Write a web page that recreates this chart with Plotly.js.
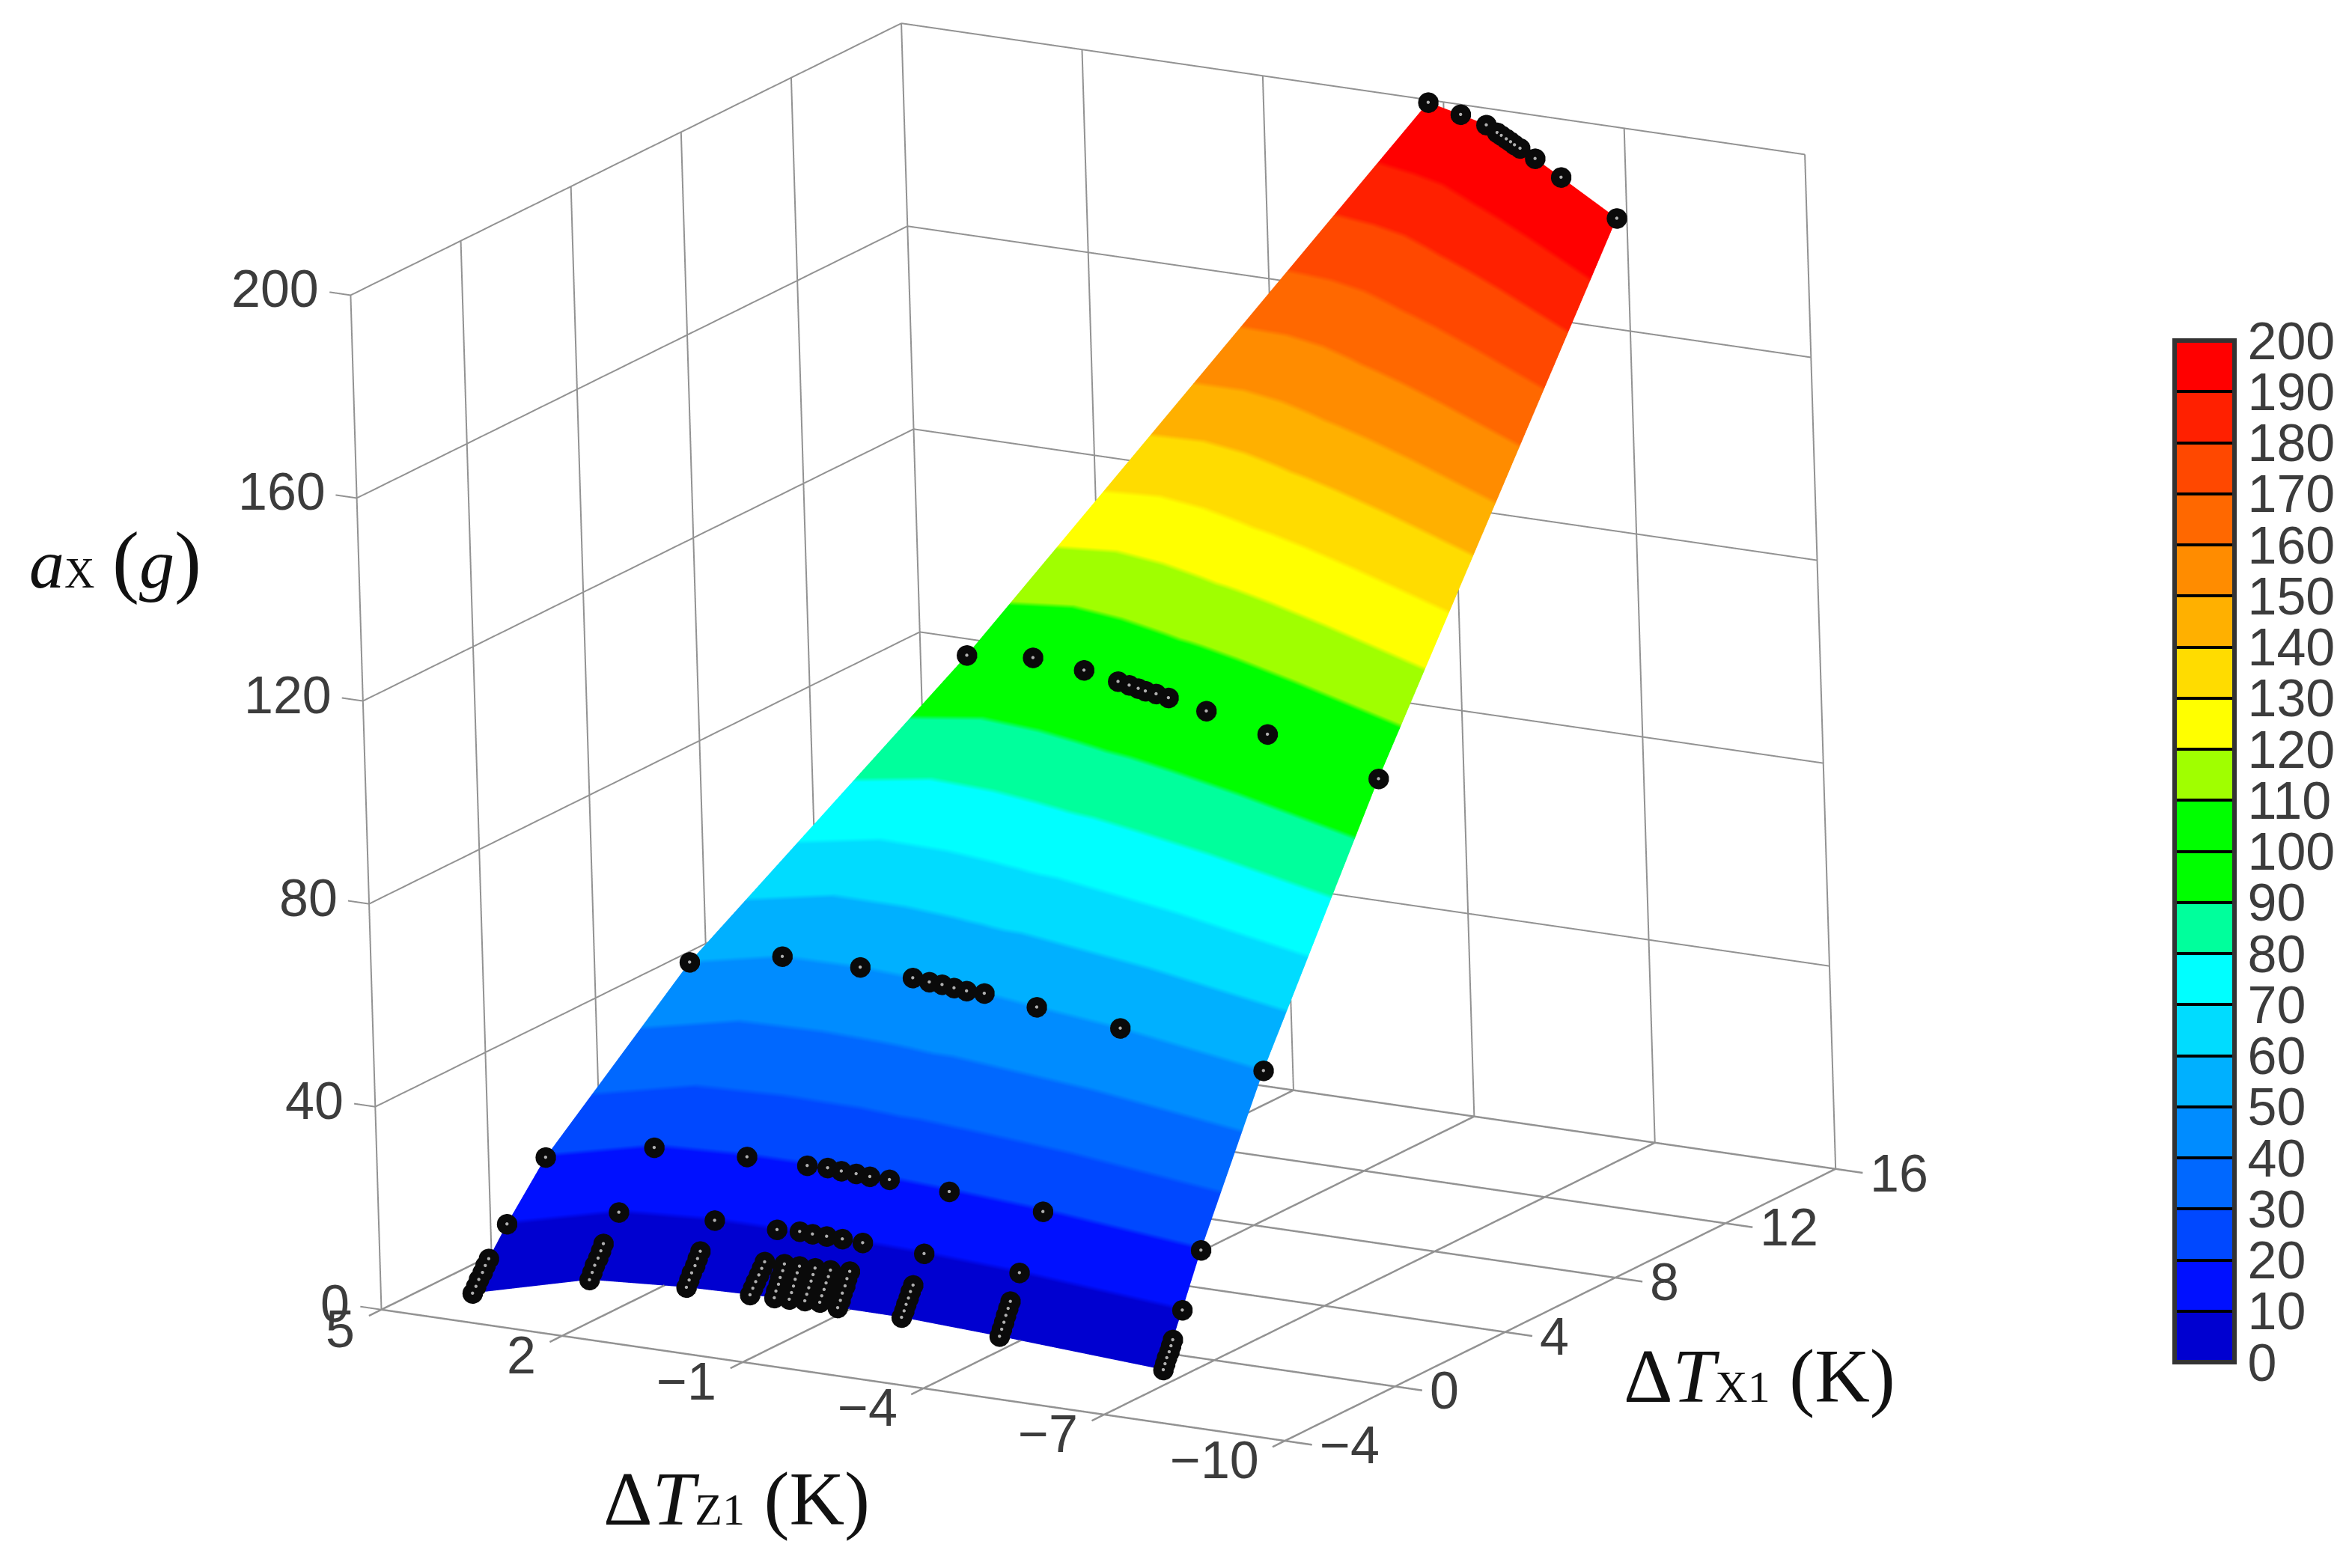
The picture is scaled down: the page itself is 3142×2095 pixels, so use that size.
<!DOCTYPE html>
<html>
<head>
<meta charset="utf-8">
<script src="https://cdn.plot.ly/plotly-3.0.1.min.js"></script>
<style>
  html, body { margin: 0; padding: 0; background: #fff; }
  #chart { width: 3142px; height: 2095px; }
</style>
</head>
<body>
<div id="chart"></div>
<script>
// a_x levels of the measured rows, bottom to top
const accel = [0, 1, 2, 3, 4, 5, 10, 20, 50, 100, 200]

// dT_Z1 (K), one row per a_x level, 12 columns
const dTz = [
  [4.26, 3.11, 1.67, 0.66, 0.27, 0.04, -0.20, -0.43, -0.80, -1.87, -3.62, -6.59],
  [4.26, 3.13, 1.69, 0.66, 0.29, 0.05, -0.19, -0.42, -0.78, -1.87, -3.60, -6.59],
  [4.27, 3.15, 1.71, 0.66, 0.30, 0.06, -0.18, -0.42, -0.75, -1.86, -3.58, -6.59],
  [4.27, 3.16, 1.72, 0.66, 0.32, 0.08, -0.17, -0.41, -0.73, -1.86, -3.56, -6.60],
  [4.28, 3.18, 1.74, 0.66, 0.33, 0.09, -0.16, -0.41, -0.70, -1.85, -3.54, -6.60],
  [4.28, 3.20, 1.76, 0.66, 0.35, 0.10, -0.15, -0.40, -0.68, -1.85, -3.52, -6.60],
  [4.28, 3.15, 1.71, 0.67, 0.33, 0.10, -0.14, -0.41, -0.77, -1.84, -3.56, -6.62],
  [4.18, 3.04, 1.61, 0.61, 0.29, 0.03, -0.23, -0.48, -0.81, -1.89, -3.61, -6.64],
  [3.39, 2.35, 1.07, 0.12, -0.20, -0.43, -0.67, -0.91, -1.20, -2.23, -3.85, -6.79],
  [1.12, 0.21, -0.77, -1.50, -1.74, -1.94, -2.10, -2.31, -2.57, -3.40, -4.79, -7.37],
  [-3.81, -4.54, -5.14, -5.48, -5.61, -5.76, -5.89, -6.02, -6.18, -6.64, -7.46, -9.24]
]

// dT_X1 (K), same shape
const dTx = [
  [-2.31, -0.58, -0.21, -0.11, -0.08, -0.04, 0.00, 0.04, -0.12, -0.14, -0.41, -0.96],
  [-2.18, -0.43, -0.06, 0.00, 0.03, 0.07, 0.10, 0.14, 0.03, -0.04, -0.28, -0.89],
  [-2.05, -0.29, 0.08, 0.11, 0.15, 0.17, 0.20, 0.23, 0.17, 0.06, -0.15, -0.82],
  [-1.91, -0.14, 0.23, 0.23, 0.26, 0.28, 0.31, 0.33, 0.32, 0.15, -0.03, -0.75],
  [-1.78, 0.01, 0.37, 0.34, 0.38, 0.38, 0.41, 0.42, 0.46, 0.25, 0.10, -0.68],
  [-1.65, 0.15, 0.52, 0.45, 0.49, 0.49, 0.51, 0.52, 0.61, 0.35, 0.23, -0.61],
  [-0.96, 0.63, 0.96, 0.95, 1.03, 0.99, 0.98, 0.96, 0.91, 0.80, 0.50, -0.28],
  [0.28, 1.73, 1.97, 1.97, 2.01, 1.94, 1.91, 1.86, 1.85, 1.66, 1.30, 0.41],
  [3.95, 5.04, 5.07, 4.90, 4.80, 4.76, 4.67, 4.60, 4.61, 4.26, 3.75, 2.52],
  [9.33, 9.74, 9.45, 9.09, 8.97, 8.86, 8.77, 8.70, 8.58, 8.14, 7.32, 5.71],
  [15.86, 15.44, 15.06, 14.71, 14.58, 14.43, 14.30, 14.16, 14.01, 13.55, 12.70, 10.83]
]

// colour of each 10 g band, 0-10 first
const bandColors = ['#0000d0', '#0010ff', '#0048ff', '#0068ff', '#008cff', '#00b0ff', '#00dcff',
  '#00ffff', '#00ff9c', '#00ff00', '#00ff00', '#a0ff00', '#ffff00', '#ffdc00', '#ffb000',
  '#ff8c00', '#ff6800', '#ff4800', '#ff2000', '#ff0000']

const xTicks = [-4, 0, 4, 8, 12, 16]
const xTickText = ['\u22124', '0', '4', '8', '12', '16']
const yTicks = [-10, -7, -4, -1, 2, 5]
const yTickText = ['\u221210', '\u22127', '\u22124', '\u22121', '2', '5']
const zTicks = [0, 40, 80, 120, 160, 200]
const barTicks = bandColors.map((c, i) => i * 10).concat([200])

const tickFont = { family: 'Liberation Sans', size: 70, color: '#3c3c3c' }

// stepped colorscale
let colorscale = []
bandColors.forEach((c, i) => {
  colorscale.push([i / bandColors.length, c])
  colorscale.push([(i + 1) / bandColors.length, c])
})

let zGrid = accel.map(a => dTz[0].map(() => a))

let surface = {
  type: 'surface',
  x: dTx,
  y: dTz,
  z: zGrid,
  cmin: 0,
  cmax: 200,
  colorscale: colorscale,
  hoverinfo: 'skip',
  lighting: { ambient: 1, diffuse: 0, specular: 0, roughness: 1, fresnel: 0 },
  colorbar: {
    tickmode: 'array',
    tickvals: barTicks,
    ticks: 'inside',
    ticklen: 80,
    tickwidth: 4,
    tickcolor: '#000',
    thickness: 80,
    thicknessmode: 'pixels',
    len: 1365,
    lenmode: 'pixels',
    x: 0.9246,
    xanchor: 'left',
    y: 0.7828,
    yanchor: 'top',
    xpad: 0,
    ypad: 0,
    outlinecolor: '#333',
    outlinewidth: 6,
    borderwidth: 0,
    tickfont: tickFont
  }
}

// markers sit a little towards the camera so the surface does not cut them
const viewDir = [-0.8126, -0.5049, 0.2831]
function markerTrace(size, color, lift) {
  return {
    type: 'scatter3d',
    mode: 'markers',
    x: dTx.flat().map(v => v + viewDir[0] * lift * 20),
    y: dTz.flat().map(v => v + viewDir[1] * lift * 15),
    z: zGrid.flat().map(v => v + viewDir[2] * lift * 200),
    hoverinfo: 'skip',
    showlegend: false,
    marker: { size: size, color: color, opacity: 1, line: { width: 0 } }
  }
}

function lineTrace(s, width) {
  return {
    type: 'scatter3d',
    mode: 'lines',
    x: [s[0][0], s[1][0]],
    y: [s[0][1], s[1][1]],
    z: [s[0][2], s[1][2]],
    hoverinfo: 'skip',
    showlegend: false,
    line: { color: '#929292', width: width }
  }
}

let floorLines = []
xTicks.forEach(t => floorLines.push([[t, -10.45, 0], [t, 5, 0]]))
yTicks.forEach(t => floorLines.push([[-4.45, t, 0], [16, t, 0]]))

let wallLines = []
xTicks.forEach(t => wallLines.push([[t, 5, 0], [t, 5, 200]]))
yTicks.forEach(t => wallLines.push([[16, t, 0], [16, t, 200]]))
zTicks.forEach(t => {
  wallLines.push([[-4, 5, t], [16, 5, t]])
  wallLines.push([[16, -10, t], [16, 5, t]])
  wallLines.push([[-4, 5, t], [-4, 5.35, t]])
})

// ranges leave a little room round the ticks, lines on the range limit get clipped
function axis(range) {
  return {
    range: range,
    title: { text: '' },
    showbackground: false,
    showspikes: false,
    zeroline: false,
    showgrid: false,
    showline: false,
    showticklabels: false,
    ticks: ''
  }
}

let tickLabels = []
xTicks.forEach((t, i) => tickLabels.push({ x: t, y: -10, z: 0, text: xTickText[i], xanchor: 'left', xshift: 44, yshift: -6 }))
yTicks.forEach((t, i) => tickLabels.push({ x: -4, y: t, z: 0, text: yTickText[i], xanchor: 'right', xshift: -33, yshift: -26 }))
zTicks.forEach(t => tickLabels.push({ x: -4, y: 5, z: t, text: String(t), xanchor: 'right', xshift: -40, yshift: 8 }))
tickLabels.forEach(a => Object.assign(a, { showarrow: false, yanchor: 'middle', font: tickFont }))

let layout = {
  width: 3142,
  height: 2095,
  margin: { l: 0, r: 0, t: 0, b: 0, pad: 0, autoexpand: false },
  paper_bgcolor: '#fff',
  showlegend: false,
  scene: {
    domain: { x: [0, 1], y: [0, 1] },
    aspectmode: 'manual',
    aspectratio: { x: 1.3905, y: 1.431, z: 1.38375 },
    xaxis: axis([-4.5, 16.1]),
    yaxis: axis([-10.5, 5.4]),
    zaxis: axis([-1, 204]),
    annotations: tickLabels,
    camera: {
      projection: { type: 'orthographic' },
      center: { x: 0.0515, y: -0.0939, z: -0.0767 },
      eye: { x: -2.3863, y: -1.6086, z: 0.7726 },
      up: { x: 0.257, y: 0.124, z: 0.959 }
    }
  },
  annotations: [
    {
      text: '<i>a</i><span style="font-size:56px">X</span> <span style="font-size:108px">(</span><i>g</i><span style="font-size:108px">)</span>',
      x: 154 / 3142, y: 1 - 749 / 2095, size: 94
    },
    {
      text: '\u0394<i>T</i><span style="font-size:60px">Z1</span> (K)',
      x: 984 / 3142, y: 1 - 2002 / 2095, size: 102
    },
    {
      text: '\u0394<i>T</i><span style="font-size:60px">X1</span> (K)',
      x: 2350 / 3142, y: 1 - 1838 / 2095, size: 102
    }
  ].map(a => ({
    text: a.text, x: a.x, y: a.y,
    xref: 'paper', yref: 'paper', xanchor: 'center', yanchor: 'middle',
    showarrow: false,
    font: { family: 'Liberation Serif', size: a.size, color: '#111' }
  }))
}

let traces = [surface, markerTrace(16, '#0a0a0a', 0.05), markerTrace(2.5, '#b0b0b0', 0.07)]
  .concat(floorLines.map(s => lineTrace(s, 5)))
  .concat(wallLines.map(s => lineTrace(s, 4)))

Plotly.newPlot('chart', traces, layout, { displayModeBar: false })
</script>
</body>
</html>
